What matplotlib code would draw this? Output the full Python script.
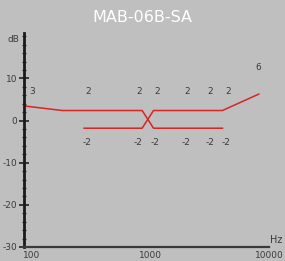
import matplotlib
matplotlib.use("Agg")
import matplotlib.pyplot as plt
from matplotlib.ticker import FixedLocator, MultipleLocator, NullLocator

# response curves (Hz, dB)
freq_a = [85, 180, 850, 1060, 4050]
db_a = [3.5, 2.4, 2.4, -1.8, -1.8]
freq_b = [275, 850, 1060, 4050, 8200]
db_b = [-1.8, -1.8, 2.4, 2.4, 6.3]

# value annotations
top_freqs = [100, 300, 800, 1130, 2030, 3170, 4490]
top_texts = ["3", "2", "2", "2", "2", "2", "2"]
peak_freq = 8160
peak_text = "6"
bottom_freqs = [290, 780, 1090, 2000, 3170, 4340]
bottom_texts = ["-2", "-2", "-2", "-2", "-2", "-2"]

x_ticks = [100, 1000, 10000]
x_labels = ["100", "1000", "10000"]
y_ticks = [10, 0, -10, -20, -30]

title = "MAB-06B-SA"

bg = "#bfbfbf"
red = "#d82424"
txt = "#3a3a3a"

plt.rcParams["axes.unicode_minus"] = False

fig = plt.figure(figsize=(2.85, 2.61), dpi=100, facecolor=bg)
ax = fig.add_axes([24 / 285, 1 - 247 / 261, 245 / 285, 214 / 261])
ax.set_facecolor(bg)

ax.plot(freq_a, db_a, color=red, lw=1.1)
ax.plot(freq_b, db_b, color=red, lw=1.1)

for f, t in zip(top_freqs, top_texts):
    ax.text(f, 6.8, t, ha="center", va="center", fontsize=6.5, color=txt)
ax.text(peak_freq, 12.7, peak_text, ha="center", va="center", fontsize=6.5, color=txt)
for f, t in zip(bottom_freqs, bottom_texts):
    ax.text(f, -5.2, t, ha="center", va="center", fontsize=6.5, color=txt)

ax.set_xscale("log")
ax.set_xlim(10 ** (2 - 8 / 118.5), 10000)
ax.set_ylim(-30, 20.8)

ax.xaxis.set_major_locator(FixedLocator(x_ticks))
ax.xaxis.set_minor_locator(NullLocator())
ax.set_xticklabels(x_labels)
ax.tick_params(axis="x", length=0, pad=3, labelsize=6.5, labelcolor=txt)

ax.yaxis.set_major_locator(FixedLocator(y_ticks))
ax.yaxis.set_minor_locator(MultipleLocator(2))
ax.tick_params(axis="y", which="major", direction="inout", length=6.5, width=1.2,
               color="#222222", pad=1.5, labelsize=6.5, labelcolor=txt)
ax.tick_params(axis="y", which="minor", direction="inout", length=2.5, width=0.9,
               color="#333333")

for side in ["top", "right"]:
    ax.spines[side].set_visible(False)
ax.spines["left"].set_linewidth(2)
ax.spines["left"].set_color("#1a1a1a")
ax.spines["bottom"].set_linewidth(1.6)
ax.spines["bottom"].set_color("#3a3a3a")

fig.text(19 / 285, 1 - 39 / 261, "dB", ha="right", va="center", fontsize=6.5, color=txt)
fig.text(282 / 285, 1 - 240 / 261, "Hz", ha="right", va="center", fontsize=7, color=txt)
fig.text(0.5, 1 - 18 / 261, title, ha="center", va="center", fontsize=11.5, color="white")

fig.savefig("out.png", dpi=100, facecolor=bg)
